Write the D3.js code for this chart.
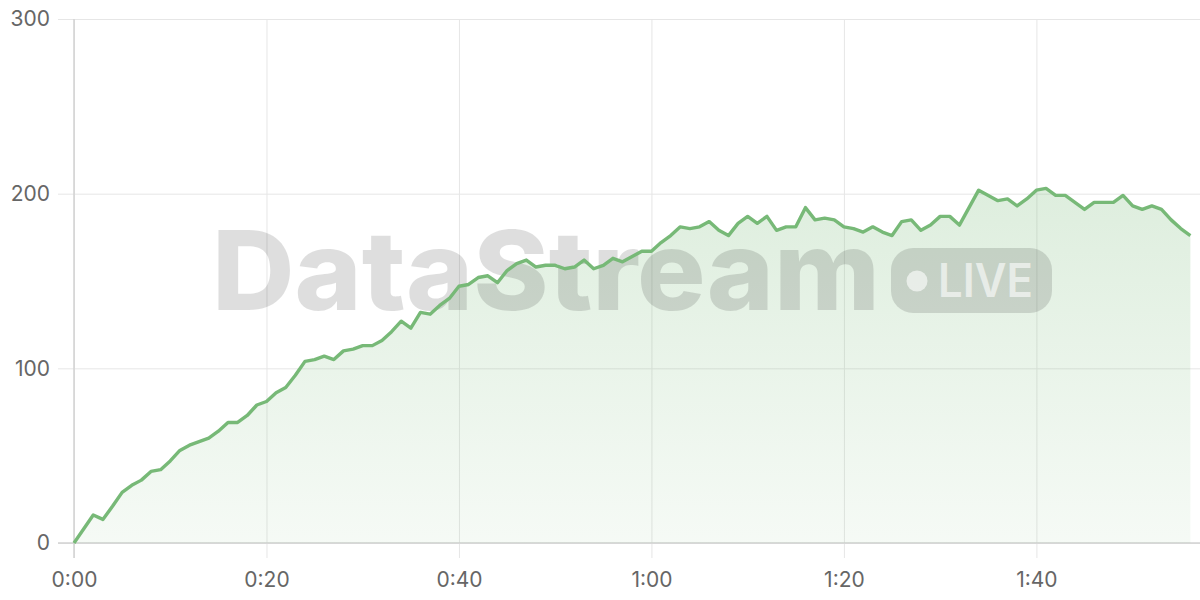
<!DOCTYPE html>
<html>
<head>
<meta charset="utf-8">
<script src="https://cdn.jsdelivr.net/npm/d3@7"></script>
<style>
  html, body { margin: 0; padding: 0; background: #fff; }
  #chart { width: 1200px; height: 600px; }
  text { font-family: Inter, "Noto Sans", sans-serif; }
</style>
</head>
<body>
<div id="chart"></div>
<script>
// seconds since start
const seconds = d3.range(0, 117);
const values = [
  0, 8, 16, 13.5, 21, 29, 33, 36, 41, 42,
  47, 53, 56, 58, 60, 64, 69, 69, 73, 79,
  81, 86, 89, 96, 104, 105, 107, 105, 110, 111,
  113, 113, 116, 121, 127, 123, 132, 131, 136, 140,
  147, 148, 152, 153, 149, 156, 160, 162, 158, 159,
  159, 157, 158, 162, 157, 159, 163, 161, 164, 167,
  167, 172, 176, 181, 180, 181, 184, 179, 176, 183,
  187, 183, 187, 179, 181, 181, 192, 185, 186, 185,
  181, 180, 178, 181, 178, 176, 184, 185, 179, 182,
  187, 187, 182, 192, 202, 199, 196, 197, 193, 197,
  202, 203, 199, 199, 195, 191, 195, 195, 195, 199,
  193, 191, 193, 191, 185, 180, 176
];
const xTicks = [0, 20, 40, 60, 80, 100];
const xTickLabels = ["0:00", "0:20", "0:40", "1:00", "1:20", "1:40"];
const yTicks = [0, 100, 200, 300];

(function(){
  const width = 1200;
  const height = 600;
  const margin = { top: 19, right: 0, bottom: 57, left: 74 };
  const lineColor = "#77b977";

  const svg = d3.select("#chart")
    .append("svg")
    .attr("width", width)
    .attr("height", height);

  const x = d3.scaleLinear()
    .domain([0, 117])
    .range([margin.left, width - margin.right]);

  const y = d3.scaleLinear()
    .domain([0, 300])
    .range([height - margin.bottom, margin.top]);

  const grad = svg.append("defs").append("linearGradient")
    .attr("id", "fillGrad")
    .attr("gradientUnits", "userSpaceOnUse")
    .attr("x1", 0).attr("y1", y(210))
    .attr("x2", 0).attr("y2", y(0));
  grad.append("stop").attr("offset", 0).attr("stop-color", lineColor).attr("stop-opacity", 0.25);
  grad.append("stop").attr("offset", 1).attr("stop-color", lineColor).attr("stop-opacity", 0.07);

  // horizontal grid + y labels
  const yAxis = svg.append("g")
    .attr("transform", `translate(${margin.left},0)`)
    .call(d3.axisLeft(y).tickValues(yTicks).tickSize(16).tickPadding(8)
      .tickSizeOuter(0));
  yAxis.select(".domain").remove();
  yAxis.selectAll(".tick line").attr("stroke", "#e6e6e6")
    .attr("x2", width - margin.left - margin.right);
  yAxis.selectAll(".tick line").attr("x1", -16);
  yAxis.selectAll(".tick text")
    .attr("fill", "#666")
    .style("font-size", "21px");

  // vertical grid + x labels
  const xAxis = svg.append("g")
    .attr("transform", `translate(0,${height - margin.bottom})`)
    .call(d3.axisBottom(x).tickValues(xTicks)
      .tickFormat((d, i) => xTickLabels[i])
      .tickSize(15).tickPadding(14).tickSizeOuter(0));
  xAxis.select(".domain").remove();
  xAxis.selectAll(".tick line")
    .attr("stroke", "#e6e6e6")
    .attr("y1", -(height - margin.bottom - margin.top));
  xAxis.selectAll(".tick text")
    .attr("fill", "#666")
    .style("font-size", "21px");

  // axis lines
  svg.append("line")
    .attr("x1", x(0)).attr("x2", x(0))
    .attr("y1", y(300)).attr("y2", y(0) + 15)
    .attr("stroke", "#d2d2d2").attr("stroke-width", 1.5);
  svg.append("line")
    .attr("x1", x(0) - 16).attr("x2", width)
    .attr("y1", y(0)).attr("y2", y(0))
    .attr("stroke", "#d2d2d2").attr("stroke-width", 1.5);

  const area = d3.area()
    .x((d, i) => x(seconds[i]))
    .y0(y(0))
    .y1(d => y(d));

  const line = d3.line()
    .x((d, i) => x(seconds[i]))
    .y(d => y(d));

  svg.append("path")
    .datum(values)
    .attr("fill", "url(#fillGrad)")
    .attr("d", area);

  // watermark sits between the fill and the line
  const wm = svg.append("g").attr("pointer-events", "none");
  wm.append("text")
    .attr("x", 212)
    .attr("y", 310)
    .attr("textLength", 668)
    .attr("lengthAdjust", "spacingAndGlyphs")
    .attr("fill", "rgba(0,0,0,0.13)")
    .style("font-size", "110px")
    .style("font-weight", 800)
    .text("DataStream");

  wm.append("rect")
    .attr("x", 891).attr("y", 248)
    .attr("width", 161).attr("height", 65)
    .attr("rx", 22)
    .attr("fill", "rgba(0,0,0,0.13)");
  wm.append("circle")
    .attr("cx", 917).attr("cy", 281)
    .attr("r", 10.5)
    .attr("fill", "rgba(255,255,255,0.6)");
  wm.append("text")
    .attr("x", 938)
    .attr("y", 297)
    .attr("textLength", 95)
    .attr("lengthAdjust", "spacingAndGlyphs")
    .attr("fill", "rgba(255,255,255,0.6)")
    .style("font-size", "46px")
    .style("font-weight", 600)
    .text("LIVE");

  svg.append("path")
    .datum(values)
    .attr("fill", "none")
    .attr("stroke", lineColor)
    .attr("stroke-width", 3.4)
    .attr("stroke-linejoin", "round")
    .attr("d", line);
})();
</script>
</body>
</html>
